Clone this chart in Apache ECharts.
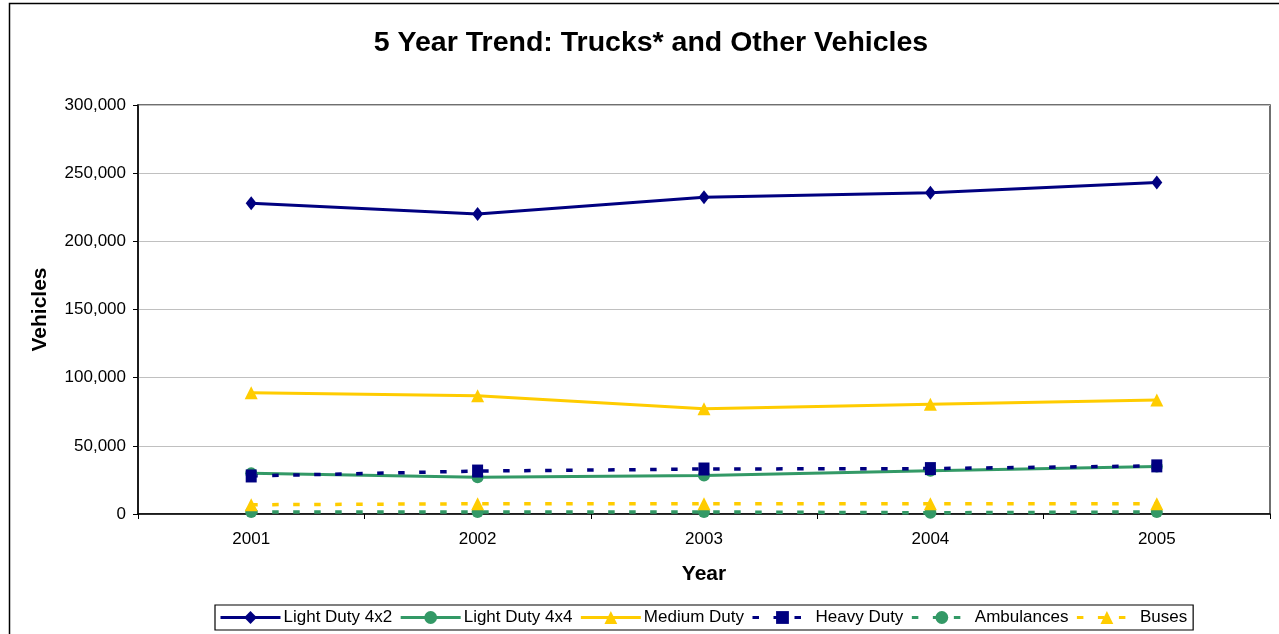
<!DOCTYPE html>
<html>
<head>
<meta charset="utf-8">
<script src="https://cdn.jsdelivr.net/npm/echarts@6/dist/echarts.min.js"></script>
<style>
html,body{margin:0;padding:0;background:#fff;}
#c{width:1279px;height:634px;}
</style>
</head>
<body>
<div id="c"></div>
<script>
const years = ['2001', '2002', '2003', '2004', '2005'];
const lightDuty4x2 = [228000, 220000, 232300, 235700, 243200];
const lightDuty4x4 = [29800, 26900, 28200, 31800, 34800];
const mediumDuty = [89000, 86800, 77200, 80500, 83600];
const heavyDuty = [27900, 31500, 33000, 33300, 35300];
const ambulances = [1500, 1500, 1500, 900, 1500];
const buses = [6800, 7500, 7600, 7500, 7500];
const yTicks = [0, 50000, 100000, 150000, 200000, 250000, 300000];

const FONT = 'Liberation Sans, Arial, sans-serif';
const chart = echarts.init(document.getElementById('c'));

function mk(name, data, color, symbol, size, dashed) {
  return {
    name: name, type: 'line', data: data,
    symbol: symbol, symbolSize: size,
    lineStyle: {color: color, width: dashed ? 3.5 : 3, type: dashed ? [6.5, 14.5] : 'solid'},
    itemStyle: {color: color},
    emphasis: {disabled: true},
    animation: false
  };
}

chart.setOption({
  animation: false,
  backgroundColor: '#fff',
  graphic: [{
    type: 'rect', shape: {x: 9.5, y: 3.5, width: 1300, height: 700},
    style: {fill: 'none', stroke: '#000', lineWidth: 1.5}, z: -10, silent: true
  }],
  title: {
    text: '5 Year Trend: Trucks* and Other Vehicles',
    left: 646, top: 24, textAlign: 'center',
    textStyle: {fontFamily: FONT, fontSize: 28.5, fontWeight: 'bold', color: '#000'}
  },
  grid: {
    left: 138, top: 105, width: 1132, height: 409,
    show: true, borderColor: '#404040', borderWidth: 1.5, backgroundColor: 'transparent'
  },
  legend: {
    left: 215, top: 605,
    itemWidth: 60, itemHeight: 16, itemGap: 7,
    borderColor: '#000', borderWidth: 1.2, padding: [4, 6, 4, 4],
    backgroundColor: '#fff',
    lineStyle: {width: 3},
    textStyle: {fontFamily: FONT, fontSize: 17, color: '#000', padding: [0, 0, 0, -2]},
    data: ['Light Duty 4x2', 'Light Duty 4x4', 'Medium Duty', 'Heavy Duty', 'Ambulances', 'Buses']
  },
  xAxis: {
    type: 'category', data: years, boundaryGap: true,
    name: 'Year', nameLocation: 'middle', nameGap: 50,
    nameTextStyle: {fontFamily: FONT, fontSize: 21, fontWeight: 'bold', color: '#000'},
    axisLine: {lineStyle: {color: '#000', width: 1.5}},
    axisTick: {show: true, length: 5, lineStyle: {color: '#000'}},
    axisLabel: {fontFamily: FONT, fontSize: 17, color: '#000', margin: 17},
    splitLine: {show: false}
  },
  yAxis: {
    type: 'value', min: 0, max: 300000, interval: 50000,
    name: 'Vehicles', nameLocation: 'middle', nameGap: 87,
    nameTextStyle: {fontFamily: FONT, fontSize: 21, fontWeight: 'bold', color: '#000'},
    axisLine: {show: true, lineStyle: {color: '#000', width: 1.5}},
    axisTick: {show: true, length: 5, lineStyle: {color: '#000'}},
    axisLabel: {
      fontFamily: FONT, fontSize: 17, color: '#000', margin: 12,
      formatter: v => yTicks.includes(v) ? v.toLocaleString('en-US') : ''
    },
    splitLine: {show: true, lineStyle: {color: '#c0c0c0', width: 1}}
  },
  series: [
    mk('Light Duty 4x2', lightDuty4x2, '#000080', 'diamond', [11, 14], false),
    mk('Light Duty 4x4', lightDuty4x4, '#339966', 'circle', 12, false),
    mk('Medium Duty', mediumDuty, '#ffcc00', 'triangle', [13, 13], false),
    mk('Heavy Duty', heavyDuty, '#000080', 'rect', [11, 13], true),
    mk('Ambulances', ambulances, '#339966', 'circle', 12, true),
    mk('Buses', buses, '#ffcc00', 'triangle', [13, 13], true)
  ]
});
</script>
</body>
</html>
